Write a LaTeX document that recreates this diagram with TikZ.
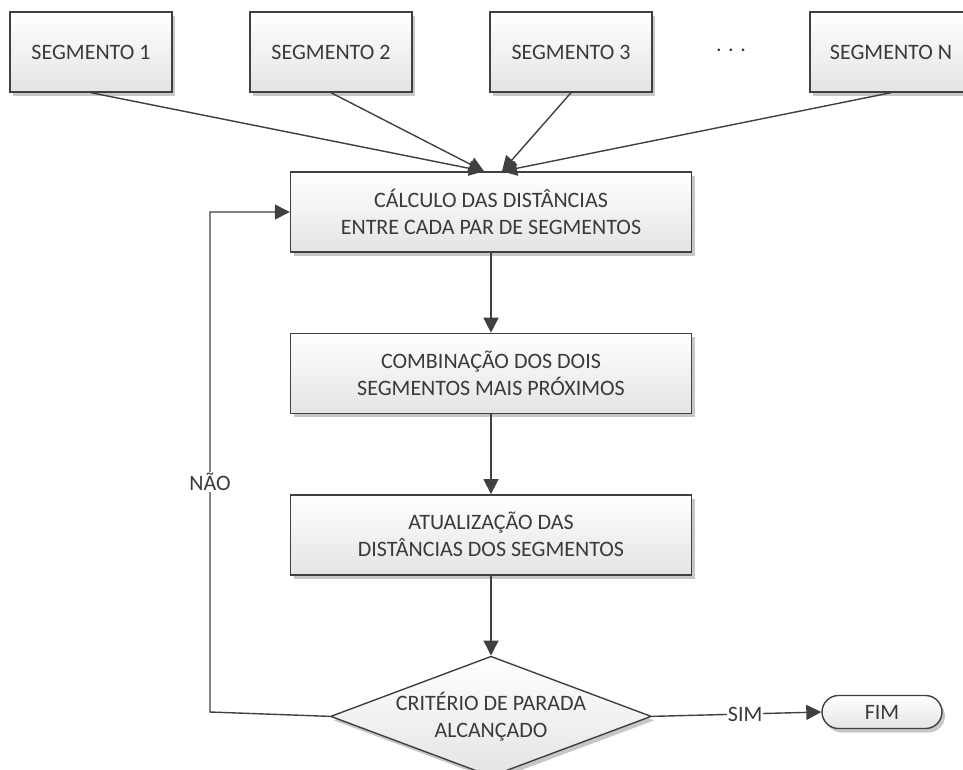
\documentclass[tikz,border=0pt]{standalone}
\usepackage{fontspec}
\setmainfont{Carlito}
\usetikzlibrary{positioning,shapes.geometric,shapes.misc,shadows,arrows.meta}
\definecolor{linecol}{HTML}{404040}
\definecolor{txtcol}{HTML}{3A3A3A}
\definecolor{boxbot}{HTML}{E4E4E4}
\begin{document}
\begin{tikzpicture}[x=1pt,y=-1pt,
	font=\fontsize{22}{27}\selectfont,
	box/.style={draw=linecol,line width=1.4pt,text=txtcol,align=center,top color=white,bottom color=boxbot,
		drop shadow={shadow xshift=3pt,shadow yshift=-4pt,fill=black!22,opacity=1}},
	segbox/.style={box,minimum width=162pt,minimum height=80pt},
	procbox/.style={box,minimum width=401pt,minimum height=80pt},
	decision/.style={box,diamond,aspect=2.667,inner sep=0pt,minimum width=320pt,minimum height=120pt},
	fimbox/.style={box,rounded rectangle,minimum width=120pt,minimum height=33pt,inner sep=0pt},
	conn/.style={draw=linecol,line width=1.4pt,-{Triangle[length=15pt,width=15pt]}},
	lbl/.style={fill=white,text=txtcol,inner sep=1pt}]
	\useasboundingbox (0,0) rectangle (963,769);
	% segmentos
	\node[segbox] (seg1) at (91,52) {SEGMENTO 1};
	\node[segbox] (seg2) at (331,52) {SEGMENTO 2};
	\node[segbox] (seg3) at (571,52) {SEGMENTO 3};
	\node[text=txtcol] (dots) at (731,50) {. . .};
	\node[segbox] (segN) at (891,52) {SEGMENTO N};
	% fluxo principal
	\node[procbox] (calc) at (491,212) {CÁLCULO DAS DISTÂNCIAS\\ENTRE CADA PAR DE SEGMENTOS};
	\node[procbox,below=80pt of calc] (comb) {COMBINAÇÃO DOS DOIS\\SEGMENTOS MAIS PRÓXIMOS};
	\node[procbox,below=80pt of comb] (atual) {ATUALIZAÇÃO DAS\\DISTÂNCIAS DOS SEGMENTOS};
	\node[decision,below=80pt of atual] (crit) {CRITÉRIO DE PARADA\\ALCANÇADO};
	\node[fimbox] (fim) at (882,712) {FIM};
	\coordinate (inL) at ([xshift=-7pt]calc.north);
	\coordinate (inR) at ([xshift=11pt]calc.north);
	\coordinate (loop) at (210,712);
	% conexoes
	\draw[conn] (seg1.south) -- (inL);
	\draw[conn] (seg2.south) -- (inL);
	\draw[conn] (seg3.south) -- (inR);
	\draw[conn] (segN.south) -- (inR);
	\draw[conn] (calc) -- (comb);
	\draw[conn] (comb) -- (atual);
	\draw[conn] (atual) -- (crit);
	\draw[conn] (crit.east) -- node[lbl,pos=0.55] {SIM} (fim.west);
	\draw[conn] (crit.west) -- (loop) |- node[lbl,pos=0.23] {NÃO} (calc.west);
\end{tikzpicture}
\end{document}
